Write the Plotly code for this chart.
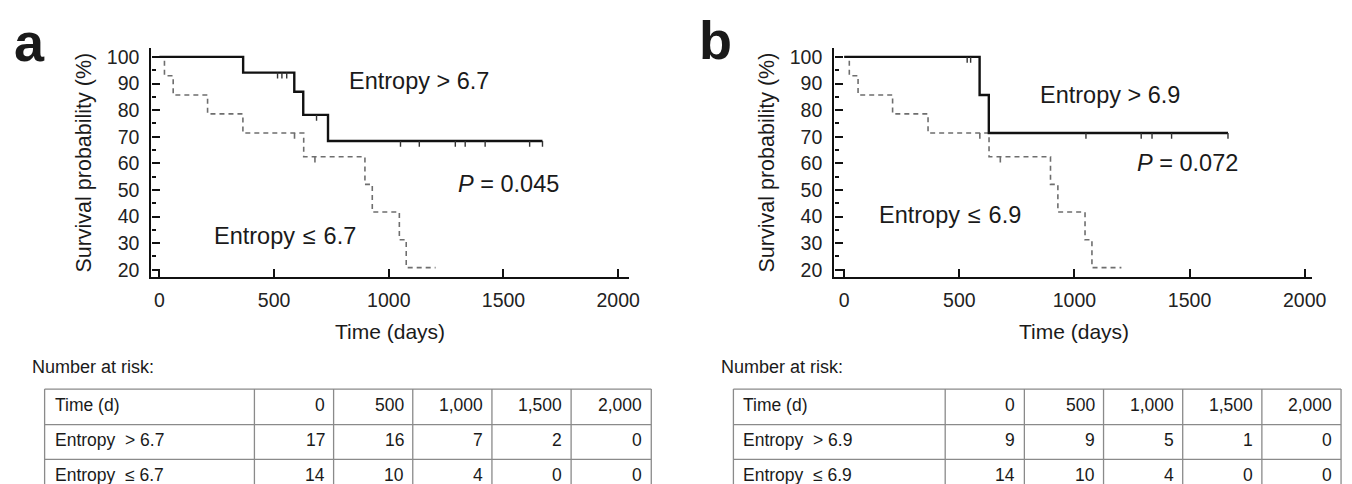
import plotly.graph_objects as go

W, H = 1352, 484
FONT = "Liberation Sans, Arial, sans-serif"

# ---------------- data ----------------
# Panel a: Entropy > 6.7 (solid)
a_hi_times = [0, 365, 588, 627, 735, 1670]
a_hi_surv = [100, 94.1, 86.9, 78.2, 68.4, 68.4]
a_hi_censor = [515, 534, 555, 685, 1051, 1133, 1290, 1333, 1420, 1614, 1670]
# Entropy <= threshold (dashed) - same group in both panels
lo_times = [0, 22, 60, 210, 364, 629, 896, 928, 1046, 1076, 1204]
lo_surv = [100, 92.9, 85.7, 78.6, 71.4, 62.5, 52.1, 41.7, 31.3, 20.8, 20.8]
lo_censor = [589, 678]
# Panel b: Entropy > 6.9 (solid)
b_hi_times = [0, 588, 628, 1667]
b_hi_surv = [100, 85.7, 71.4, 71.4]
b_hi_censor = [534, 549, 1050, 1290, 1337, 1422, 1667]

# number at risk tables
risk_header = ["Time (d)", "0", "500", "1,000", "1,500", "2,000"]
a_risk_labels = ["Entropy\u00a0 > 6.7", "Entropy\u00a0 \u2264 6.7"]
a_risk_hi = [17, 16, 7, 2, 0]
a_risk_lo = [14, 10, 4, 0, 0]
b_risk_labels = ["Entropy\u00a0 > 6.9", "Entropy\u00a0 \u2264 6.9"]
b_risk_hi = [9, 9, 5, 1, 0]
b_risk_lo = [14, 10, 4, 0, 0]

x_ticks = [0, 500, 1000, 1500, 2000]
y_ticks = [20, 30, 40, 50, 60, 70, 80, 90, 100]


def surv_at(times, surv, t):
    s = surv[0]
    for ti, si in zip(times, surv):
        if ti <= t:
            s = si
    return s


def censor_xy(times, surv, cens, drop=2.2):
    xs, ys = [], []
    for c in cens:
        s = surv_at(times, surv, c)
        xs += [c, c, None]
        ys += [s, s - drop, None]
    return xs, ys


fig = go.Figure()

panels = [
    ("x", "y", a_hi_times, a_hi_surv, a_hi_censor),
    ("x2", "y2", b_hi_times, b_hi_surv, b_hi_censor),
]
for xr, yr, ht, hs, hc in panels:
    # dashed group
    fig.add_trace(go.Scatter(x=lo_times, y=lo_surv, mode="lines", line_shape="hv",
                             line=dict(color="#6e6e6e", width=1.6, dash="5px,4px"),
                             xaxis=xr, yaxis=yr, showlegend=False, hoverinfo="skip"))
    cx, cy = censor_xy(lo_times, lo_surv, lo_censor)
    fig.add_trace(go.Scatter(x=cx, y=cy, mode="lines", line=dict(color="#6e6e6e", width=1.6),
                             xaxis=xr, yaxis=yr, showlegend=False, hoverinfo="skip"))
    # solid group
    fig.add_trace(go.Scatter(x=ht, y=hs, mode="lines", line_shape="hv",
                             line=dict(color="#111111", width=2.4),
                             xaxis=xr, yaxis=yr, showlegend=False, hoverinfo="skip"))
    cx, cy = censor_xy(ht, hs, hc)
    fig.add_trace(go.Scatter(x=cx, y=cy, mode="lines", line=dict(color="#333333", width=1.4),
                             xaxis=xr, yaxis=yr, showlegend=False, hoverinfo="skip"))

ydom = [1 - 270 / H, 1 - 38 / H]
axis_common_x = dict(tickvals=x_ticks, ticks="inside", ticklen=8, tickwidth=2, tickcolor="#111",
                     showline=True, linecolor="#111", linewidth=2.4, showgrid=False, zeroline=False,
                     tickfont=dict(family=FONT, size=19.5, color="#222"), ticklabelstandoff=4)
axis_common_y = dict(tickvals=y_ticks, ticks="inside", ticklen=8, tickwidth=2, tickcolor="#111",
                     showline=True, linecolor="#111", linewidth=2.4, showgrid=False, zeroline=False,
                     range=[17.2, 103.5],
                     minor=dict(dtick=5, tick0=0, ticks="inside", ticklen=4, tickwidth=1.5, tickcolor="#111"),
                     tickfont=dict(family=FONT, size=19.5, color="#222"), ticklabelstandoff=6)

fig.update_layout(
    width=W, height=H, margin=dict(l=0, r=0, t=0, b=0),
    paper_bgcolor="white", plot_bgcolor="white",
    xaxis=dict(domain=[145 / W, 627 / W], range=[-34.5, 2045], anchor="y", **axis_common_x),
    yaxis=dict(domain=ydom, anchor="x", **axis_common_y),
    xaxis2=dict(domain=[835 / W, 1318 / W], range=[-43, 2033.5], anchor="y2", **axis_common_x),
    yaxis2=dict(domain=ydom, anchor="x2", **axis_common_y),
)

ann = []
txt = dict(family=FONT, color="#1a1a1a")


def A(text, x, y, xref="paper", yref="paper", size=20, xanchor="center", yanchor="middle", **kw):
    ann.append(dict(text=text, x=x, y=y, xref=xref, yref=yref, showarrow=False,
                    xanchor=xanchor, yanchor=yanchor, font=dict(size=size, **txt), **kw))


# panel letters
A("<b>a</b>", 22 / W, 1 - 32 / H, size=54)
A("<b>b</b>", 715 / W, 1 - 30 / H, size=54)

# axis titles
for x0 in (77, 767):
    A("Survival probability (%)", x0 / W, 1 - 154 / H, size=21.5, textangle=-90)
A("Time (days)", 386 / W, 1 - 325 / H, size=21)
A("Time (days)", 1077 / W, 1 - 325 / H, size=21)

# in-plot labels
A("Entropy > 6.7", 1130, 90.8, "x", "y", size=23.5)
A("<i>P</i> = 0.045", 1523, 52.2, "x", "y", size=23.5)
A("Entropy\u2004\u2264\u20046.7", 548, 32.6, "x", "y", size=23.5)
A("Entropy > 6.9", 1156, 85.6, "x2", "y2", size=23.5)
A("<i>P</i> = 0.072", 1492, 60.0, "x2", "y2", size=23.5)
A("Entropy\u2004\u2264\u20046.9", 460, 40.6, "x2", "y2", size=23.5)

# tables
shapes = []
rows_y = [383, 419, 454, 490]
tables = [
    (22, [37, 249, 329, 409, 489, 569, 650], a_risk_labels, a_risk_hi, a_risk_lo),
    (718, [733, 947, 1027, 1107, 1187, 1267, 1347], b_risk_labels, b_risk_hi, b_risk_lo),
]
gc = "#8a8a8a"
for nx, cols, labels, hi, lo in tables:
    A("Number at risk:", nx / W, 1 - 361 / H, size=18, xanchor="left")
    for ry in rows_y[:-1]:
        shapes.append(dict(type="line", xref="paper", yref="paper", x0=cols[0] / W, x1=cols[-1] / W,
                           y0=1 - ry / H, y1=1 - ry / H, line=dict(color=gc, width=1.3)))
    for cxp in cols:
        shapes.append(dict(type="line", xref="paper", yref="paper", x0=cxp / W, x1=cxp / W,
                           y0=1 - rows_y[0] / H, y1=0, line=dict(color=gc, width=1.3)))
    rows = [risk_header, [labels[0]] + [str(v) for v in hi], [labels[1]] + [str(v) for v in lo]]
    for ri, row in enumerate(rows):
        yc = 1 - ((rows_y[ri] + rows_y[ri + 1]) / 2 - 2) / H
        for ci, val in enumerate(row):
            if ci == 0:
                A(val, (cols[0] + 8) / W, yc, size=17.5, xanchor="left")
            else:
                A(val, (cols[ci + 1] - 7) / W, yc, size=17.5, xanchor="right")

fig.update_layout(annotations=ann, shapes=shapes)
fig.write_html("out.html")
